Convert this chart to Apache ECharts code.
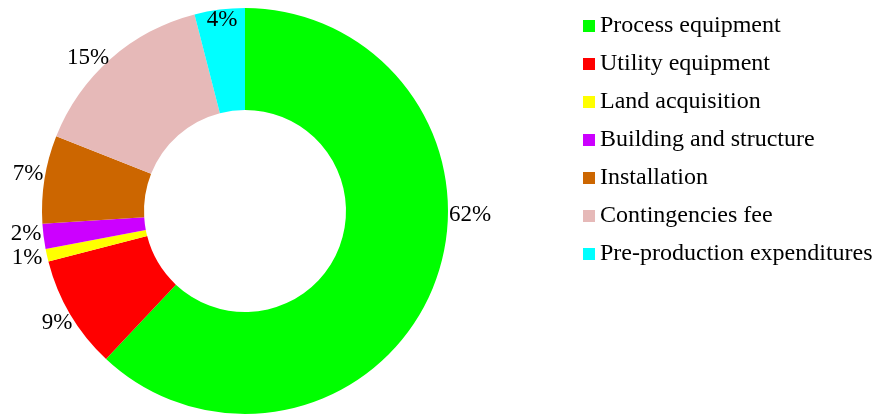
<!DOCTYPE html>
<html lang="en">
<head>
    <meta charset="UTF-8">
    <title>Investment breakdown</title>
    <script src="https://cdn.jsdelivr.net/npm/echarts@6/dist/echarts.min.js"></script>
    <style>
        html, body { margin: 0; padding: 0; background: #fff; }
        #main { width: 874px; height: 417px; }
    </style>
</head>
<body>
    <div id="main"></div>
    <script type="text/javascript">
        // categories and shares (%)
        var categories = ['Process equipment', 'Utility equipment', 'Land acquisition',
            'Building and structure', 'Installation', 'Contingencies fee', 'Pre-production expenditures'];
        var shares = [62, 9, 1, 2, 7, 15, 4];
        var colors = ['#00ff00', '#ff0000', '#ffff00', '#cc00ff', '#cc6600', '#e6b9b8', '#00ffff'];
        // where each percentage label sits (text centre)
        var labelAnchors = [[470, 215], [57, 323], [27, 258], [26, 234], [28, 174], [88, 58], [222, 20]];

        var myChart = echarts.init(document.getElementById('main'));

        var option = {
            backgroundColor: '#fff',
            color: colors,
            animation: false,
            legend: {
                orient: 'vertical',
                left: 583,
                top: 14,
                padding: 0,
                itemWidth: 12,
                itemHeight: 12,
                itemGap: 14,
                icon: 'rect',
                textStyle: {
                    fontFamily: 'Liberation Serif',
                    fontSize: 24,
                    lineHeight: 24,
                    color: '#000'
                },
                data: categories
            },
            series: [{
                type: 'pie',
                center: [245, 211],
                radius: [101, 203],
                startAngle: 90,
                clockwise: true,
                avoidLabelOverlap: false,
                label: {
                    position: 'outside',
                    formatter: '{c}%',
                    fontFamily: 'Liberation Serif',
                    fontSize: 23,
                    color: '#000'
                },
                labelLine: { show: false, length: 2, length2: 0 },
                labelLayout: function (params) {
                    var p = labelAnchors[params.dataIndex];
                    return { x: p[0], y: p[1], align: 'center', verticalAlign: 'middle', hideOverlap: false };
                },
                emphasis: { disabled: true },
                data: categories.map(function (name, i) {
                    return { name: name, value: shares[i] };
                })
            }]
        };

        myChart.setOption(option);
    </script>
</body>
</html>
